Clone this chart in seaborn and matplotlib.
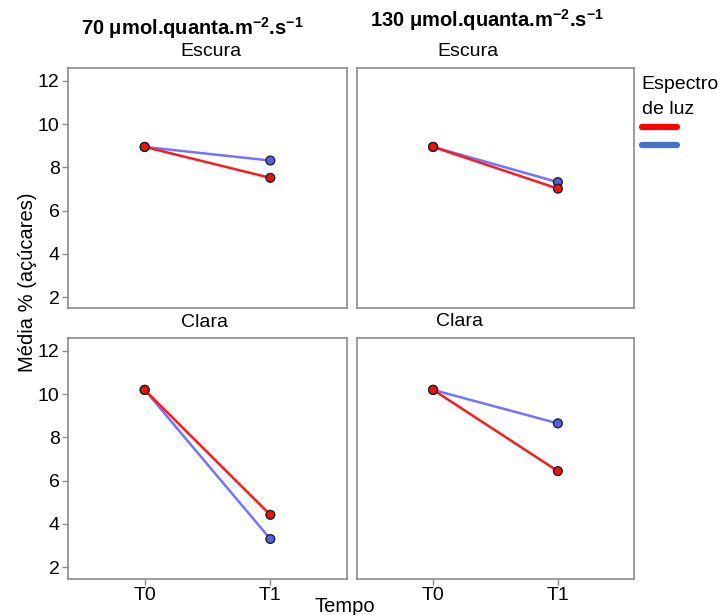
import matplotlib
matplotlib.use("Agg")
import matplotlib.pyplot as plt
import seaborn as sns
import pandas as pd
from matplotlib.lines import Line2D

# ---- data ----
tempos = ["T0", "T1"]
espectros = ["Azul", "Vermelho"]
luz_niveis = ["70", "130"]
condicoes = ["Escura", "Clara"]

escura_70_vermelho = [8.95, 7.52]
escura_70_azul = [8.95, 8.32]
escura_130_vermelho = [8.95, 7.02]
escura_130_azul = [8.95, 7.32]
clara_70_vermelho = [10.2, 4.42]
clara_70_azul = [10.2, 3.30]
clara_130_vermelho = [10.2, 6.44]
clara_130_azul = [10.2, 8.65]

series = {
    ("Escura", "70", "Azul"): escura_70_azul,
    ("Escura", "70", "Vermelho"): escura_70_vermelho,
    ("Escura", "130", "Azul"): escura_130_azul,
    ("Escura", "130", "Vermelho"): escura_130_vermelho,
    ("Clara", "70", "Azul"): clara_70_azul,
    ("Clara", "70", "Vermelho"): clara_70_vermelho,
    ("Clara", "130", "Azul"): clara_130_azul,
    ("Clara", "130", "Vermelho"): clara_130_vermelho,
}
rows = []
for (cond, luz, esp), vals in series.items():
    for i, t in enumerate(tempos):
        rows.append(dict(Condicao=cond, Luz=luz, Espectro=esp, Tempo=t, x=i, Media=vals[i]))
df = pd.DataFrame(rows)

# ---- style ----
sns.set_style("white")
plt.rcParams["font.family"] = ["Liberation Sans", "DejaVu Sans"]
plt.rcParams["text.color"] = "black"
plt.rcParams["mathtext.fontset"] = "custom"
plt.rcParams["mathtext.rm"] = "Liberation Sans"
plt.rcParams["mathtext.bf"] = "Liberation Sans:bold"

line_pal = {"Vermelho": "#FF1A1A", "Azul": "#7373FF"}
mark_pal = {"Vermelho": "#EE1111", "Azul": "#5063E0"}

W, H = 723, 615
fig = plt.figure(figsize=(W / 100, H / 100), dpi=100)

def box(x0, y0, x1, y1):
    return [x0 / W, 1 - y1 / H, (x1 - x0) / W, (y1 - y0) / H]

layout = {
    ("Escura", "70"): box(68, 68, 347, 308),
    ("Escura", "130"): box(357, 68, 634, 308),
    ("Clara", "70"): box(68, 338, 347, 579),
    ("Clara", "130"): box(357, 338, 634, 579),
}

for (cond, luz), rect in layout.items():
    ax = fig.add_axes(rect)
    sub = df[(df.Condicao == cond) & (df.Luz == luz)]
    sns.lineplot(data=sub, x="x", y="Media", hue="Espectro", hue_order=espectros,
                 palette=line_pal, linewidth=1.8, ax=ax, legend=False, estimator=None)
    sns.scatterplot(data=sub, x="x", y="Media", hue="Espectro", hue_order=espectros,
                    palette=mark_pal, s=40, edgecolor="#222222", linewidth=1.0,
                    ax=ax, legend=False, zorder=5)
    ax.set_xlim(-0.61, 1.61)
    ax.set_ylim(1.5 if cond == "Escura" else 1.45, 12.6)
    ax.set_yticks([2, 4, 6, 8, 10, 12])
    ax.set_xticks([0, 1])
    ax.set_xticklabels(tempos)
    ax.set_xlabel("")
    ax.set_ylabel("")
    for s in ax.spines.values():
        s.set_color("#8c8c8c")
        s.set_linewidth(1.2)
    ax.tick_params(axis="both", colors="#8c8c8c", labelcolor="black", labelsize=14,
                   length=4, width=1, pad=2, left=(luz == "70"), bottom=(cond == "Clara"))
    if luz != "70":
        ax.set_yticklabels([])
    if cond != "Clara":
        ax.set_xticklabels([])

# titles
fig.text(192 / W, 1 - 28 / H, r"70 μmol.quanta.m$^{\mathbf{-2}}$.s$^{\mathbf{-1}}$",
         ha="center", va="center", fontsize=14.5, fontweight="bold")
fig.text(487 / W, 1 - 20 / H, r"130 μmol.quanta.m$^{\mathbf{-2}}$.s$^{\mathbf{-1}}$",
         ha="center", va="center", fontsize=14.5, fontweight="bold")
fig.text(211 / W, 1 - 51 / H, "Escura", ha="center", va="center", fontsize=14)
fig.text(468 / W, 1 - 51 / H, "Escura", ha="center", va="center", fontsize=14)
fig.text(205 / W, 1 - 323 / H, "Clara", ha="center", va="center", fontsize=14)
fig.text(460 / W, 1 - 322 / H, "Clara", ha="center", va="center", fontsize=14)

fig.text(28 / W, 1 - 282 / H, "Média % (açúcares)", rotation=90, ha="center", va="center", fontsize=14.5)
fig.text(345 / W, 1 - 607 / H, "Tempo", ha="center", va="center", fontsize=14.5)

# legend
handles = [Line2D([], [], color="#FF0000", linewidth=4.5),
           Line2D([], [], color="#4472C4", linewidth=4.5)]
leg = fig.legend(handles, ["", ""], title="Espectro\nde luz", loc="upper left",
                 bbox_to_anchor=(639 / W, 1 - 73 / H), frameon=False,
                 handlelength=2.5, handletextpad=0, labelspacing=0.25,
                 borderaxespad=0, borderpad=0.2, title_fontsize=14)
leg._legend_box.align = "left"
leg.get_title().set_linespacing(1.6)

fig.savefig("out.png", dpi=100)
